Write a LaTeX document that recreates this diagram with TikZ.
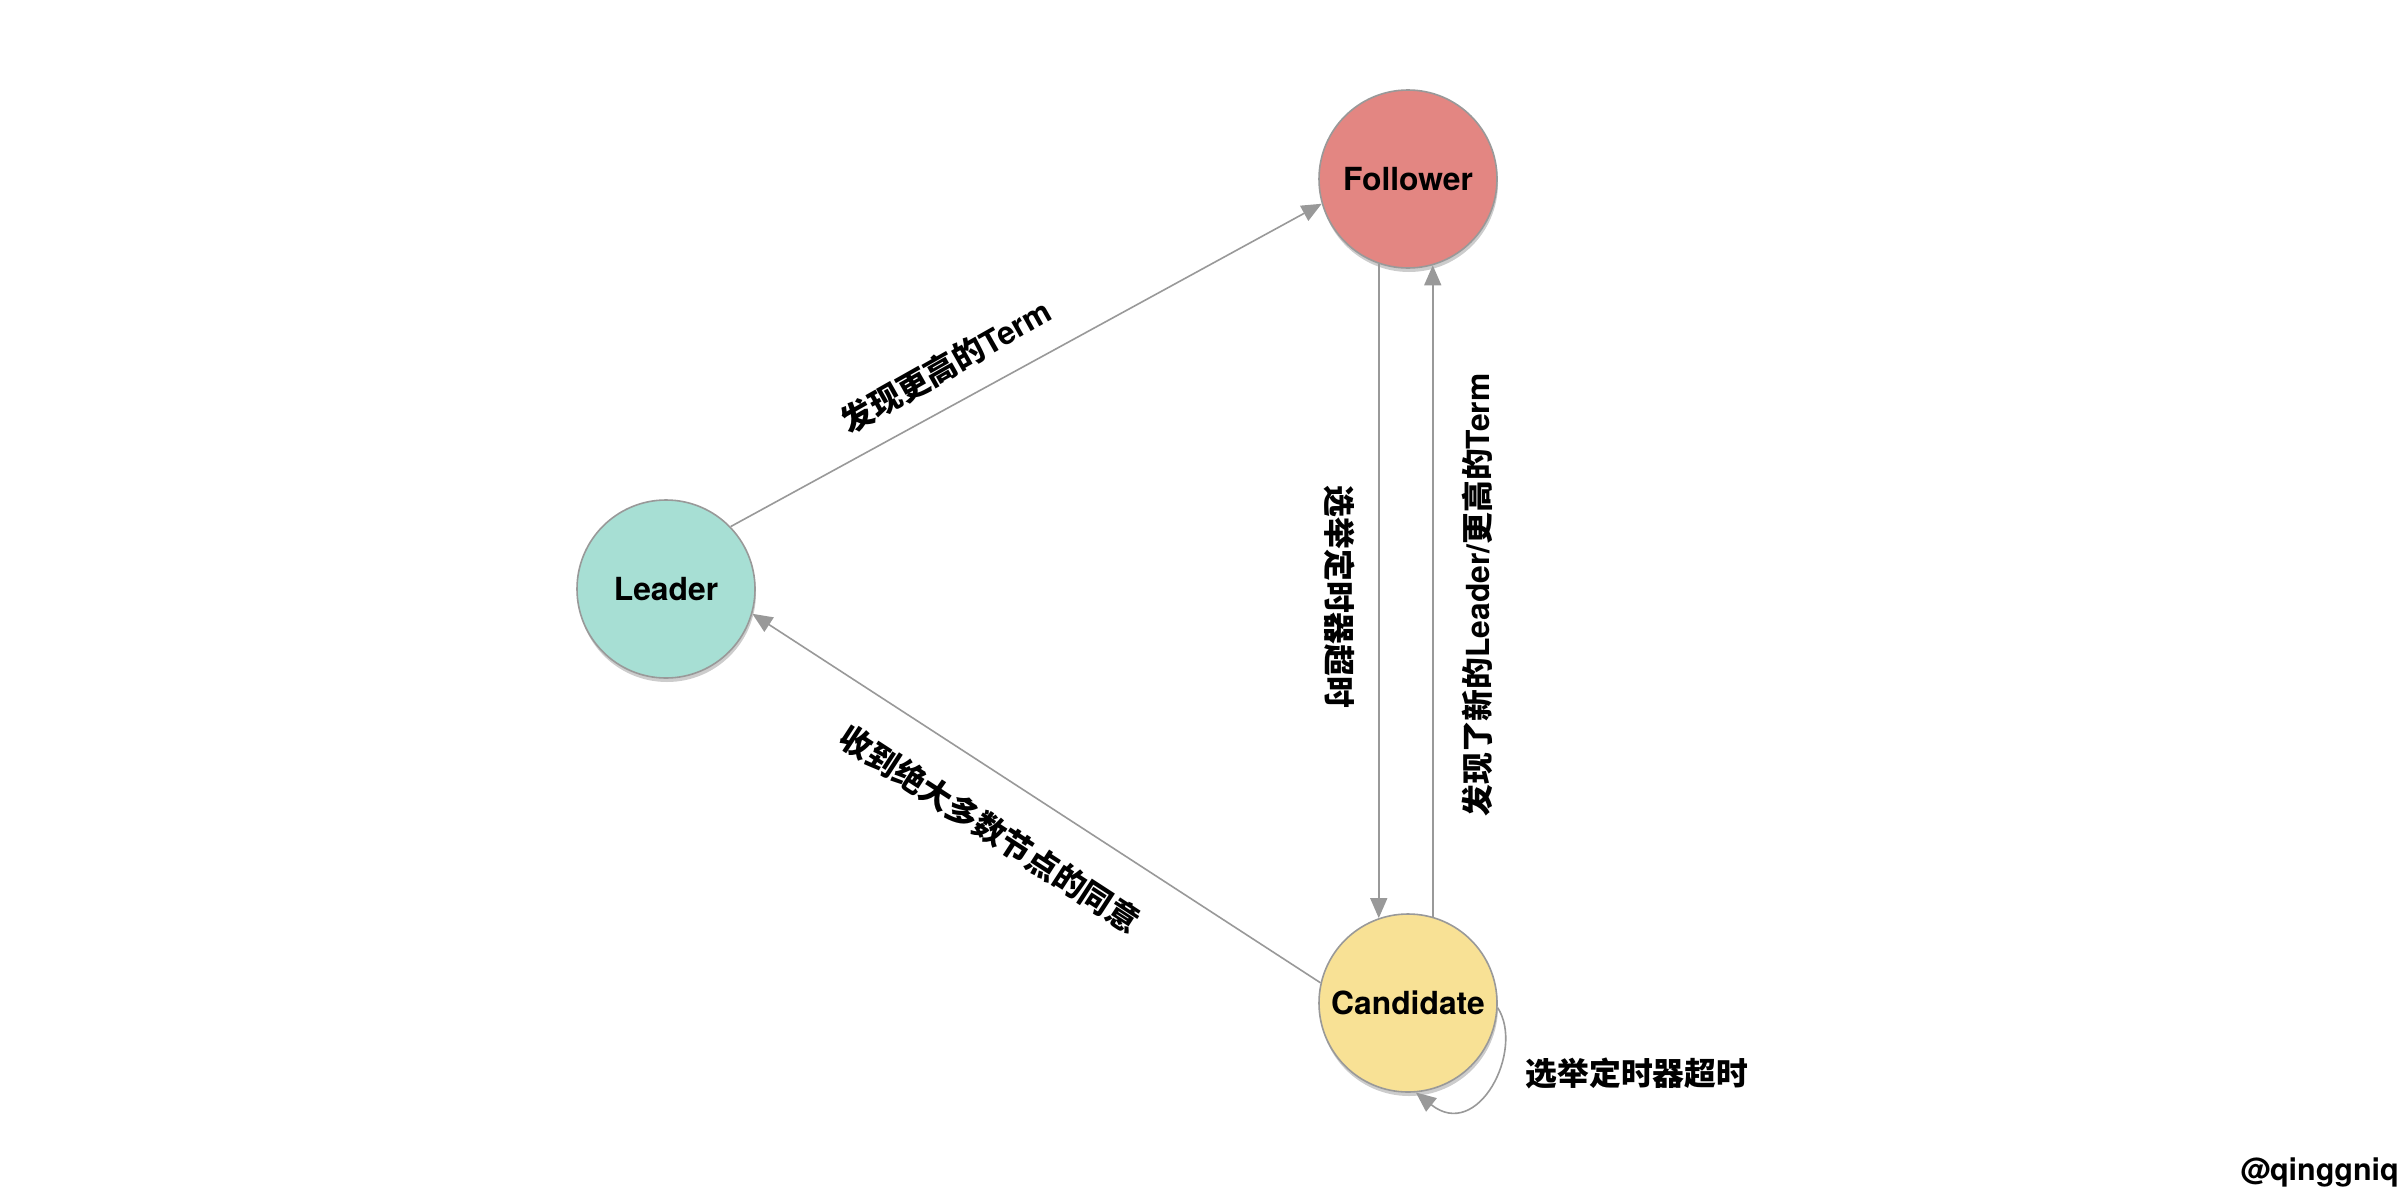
\documentclass[tikz,border=0pt]{standalone}
\usepackage{fontspec}
\setmainfont{TeX Gyre Heros}
\newfontfamily\cjk{Noto Sans CJK SC}
\usetikzlibrary{arrows.meta,shadows}
\definecolor{folc}{HTML}{E38682}
\definecolor{leac}{HTML}{A7DFD4}
\definecolor{canc}{HTML}{F8E195}
\definecolor{edgec}{HTML}{999999}
\tikzset{
  state/.style={circle,draw=edgec,line width=1.6pt,minimum size=178pt,inner sep=0pt,
    font=\fontsize{31.8pt}{36pt}\selectfont\bfseries,
    drop shadow={shadow xshift=1pt,shadow yshift=-4pt,opacity=0.2,fill=black}},
  conn/.style={draw=edgec,line width=1.6pt,-{Triangle[length=20pt,width=17pt]},color=edgec},
  lbl/.style={font=\fontsize{31.8pt}{36pt}\selectfont\bfseries,inner sep=0pt},
}
\begin{document}
\begin{tikzpicture}[x=1pt,y=-1pt]
\useasboundingbox[fill=white] (0,0) rectangle (2400,1202);
\node[state,fill=folc] (F) at (1408,179) {Follower};
\node[state,fill=leac] (L) at (666,589) {Leader};
\node[state,fill=canc] (C) at (1408,1003) {Candidate};

\draw[conn] (L.44) -- (F.196);
\draw[conn] (C.167) -- (L.-16);
\draw[conn] (F.-109.7) -- (C.109.7);
\draw[conn] (C.74.4) -- (F.-74.4);
\draw[conn] (C.-3) .. controls (1525,1050) and (1478,1142) .. (C.-85);

\node[lbl,rotate=29.5] (t1) at (946,366) {{\cjk 发现更高的}Term};
\node[lbl,rotate=-33] (t2) at (990,829) {\cjk 收到绝大多数节点的同意};
\node[lbl,rotate=-90] (t3) at (1340,597) {\cjk 选举定时器超时};
\node[lbl,rotate=90] (t4) at (1477,595) {{\cjk 发现了新的}Leader/{\cjk 更高的}Term};
\node[lbl] (t5) at (1637,1073) {\cjk 选举定时器超时};
\node[lbl,anchor=east,font=\fontsize{30.5pt}{36pt}\selectfont\bfseries] (wm) at (2399,1172) {@qinggniq};
\end{tikzpicture}
\end{document}
